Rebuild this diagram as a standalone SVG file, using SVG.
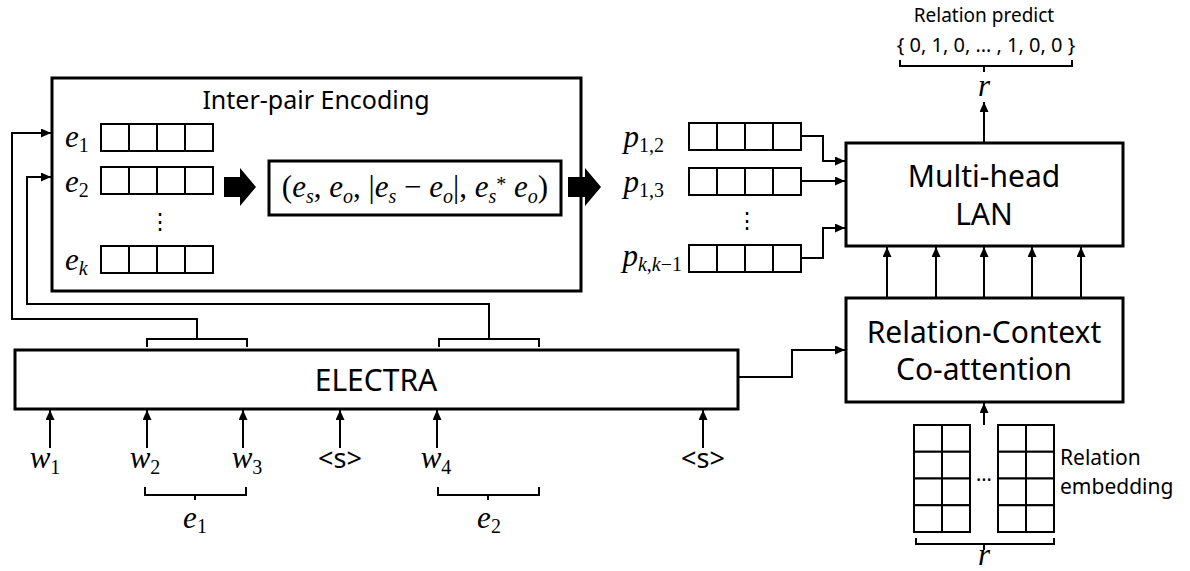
<svg xmlns="http://www.w3.org/2000/svg" xmlns:xlink="http://www.w3.org/1999/xlink" width="1190" height="571" viewBox="0 0 1190 571">
<style>
.box{fill:#fff;stroke:#000;stroke-width:3}
.cell{fill:#fff;stroke:#000;stroke-width:2}
.ln{fill:none;stroke:#000;stroke-width:2}
.arr{fill:none;stroke:#000;stroke-width:2;marker-end:url(#ah)}
.lbl{font-family:"Noto Sans","Open Sans","Liberation Sans",sans-serif;fill:#000}
.m{font-family:"Liberation Serif","DejaVu Serif",serif;font-style:italic;font-size:31px;fill:#000}
.sb{font-style:normal;font-size:20px}
.si{font-style:italic;font-size:20px}
.up{font-style:normal}
</style>
<defs>
<marker id="ah" markerUnits="userSpaceOnUse" markerWidth="11" markerHeight="10" refX="10" refY="4.5" orient="auto">
<path d="M0,0 L10,4.5 L0,9 z" fill="#000"/>
</marker>
<g id="row4">
<rect class="cell" x="0" y="0" width="28" height="27"/>
<rect class="cell" x="28" y="0" width="28" height="27"/>
<rect class="cell" x="56" y="0" width="28" height="27"/>
<rect class="cell" x="84" y="0" width="28" height="27"/>
</g>
<g id="grid24">
<rect class="cell" x="0" y="0" width="28" height="26.75"/>
<rect class="cell" x="28" y="0" width="28" height="26.75"/>
<rect class="cell" x="0" y="26.75" width="28" height="26.75"/>
<rect class="cell" x="28" y="26.75" width="28" height="26.75"/>
<rect class="cell" x="0" y="53.5" width="28" height="26.75"/>
<rect class="cell" x="28" y="53.5" width="28" height="26.75"/>
<rect class="cell" x="0" y="80.25" width="28" height="26.75"/>
<rect class="cell" x="28" y="80.25" width="28" height="26.75"/>
</g>
</defs>
<rect width="1190" height="571" fill="#fff"/>

<g id="inter-pair-encoding">
<rect class="box" x="52" y="78" width="529" height="213"/>
<text class="lbl" x="316" y="109" font-size="25" text-anchor="middle">Inter-pair Encoding</text>
<text class="m" x="65" y="147">e<tspan class="sb" dy="5">1</tspan></text>
<use xlink:href="#row4" x="101" y="124"/>
<text class="m" x="65" y="192">e<tspan class="sb" dy="5">2</tspan></text>
<use xlink:href="#row4" x="101" y="167"/>
<text class="lbl" x="160" y="229" font-size="22" text-anchor="middle" font-family="DejaVu Sans">⋮</text>
<text class="m" x="65" y="270">e<tspan class="si" dy="5">k</tspan></text>
<use xlink:href="#row4" x="101" y="246"/>
<polygon points="224,177 240,177 240,168 256,187 240,206 240,197 224,197" fill="#000"/>
</g>

<g id="pair-features">
<rect class="box" x="269" y="161" width="292" height="54"/>
<text class="m" x="415" y="197" text-anchor="middle" font-size="26"><tspan class="up">(</tspan>e<tspan class="si" dy="6" font-size="18">s</tspan><tspan class="up" dy="-6">, </tspan>e<tspan class="si" dy="6" font-size="18">o</tspan><tspan class="up" dy="-6">, |</tspan>e<tspan class="si" dy="6" font-size="18">s</tspan><tspan class="up" dy="-6"> − </tspan>e<tspan class="si" dy="6" font-size="18">o</tspan><tspan class="up" dy="-6">|, </tspan>e<tspan class="si" dy="6" font-size="18">s</tspan><tspan class="up" dy="-12" font-size="20">*</tspan><tspan class="up" dy="6"> </tspan>e<tspan class="si" dy="6" font-size="18">o</tspan><tspan class="up" dy="-6">)</tspan></text>
<polygon points="568,177 585,177 585,168 601,187 585,206 585,197 568,197" fill="#000"/>
</g>

<g id="pair-vectors">
<text class="m" x="664" y="147" text-anchor="end">p<tspan class="sb" dy="5">1,2</tspan></text>
<use xlink:href="#row4" x="689" y="123"/>
<text class="m" x="664" y="192" text-anchor="end">p<tspan class="sb" dy="5">1,3</tspan></text>
<use xlink:href="#row4" x="689" y="168"/>
<text class="lbl" x="747" y="228" font-size="22" text-anchor="middle" font-family="DejaVu Sans">⋮</text>
<text class="m" x="682" y="266" text-anchor="end">p<tspan class="si" dy="5">k</tspan><tspan class="sb">,</tspan><tspan class="si">k</tspan><tspan class="sb">−1</tspan></text>
<use xlink:href="#row4" x="689" y="245"/>
</g>

<g id="multi-head-lan">
<rect class="box" x="846" y="143" width="277" height="103"/>
<text class="lbl" x="984" y="187" font-size="30" text-anchor="middle">Multi-head</text>
<text class="lbl" x="984" y="225" font-size="30" text-anchor="middle">LAN</text>
</g>

<g id="relation-predict">
<text class="lbl" x="984" y="22" font-size="19" text-anchor="middle">Relation predict</text>
<text class="lbl" x="986" y="52" font-size="20" text-anchor="middle">{ 0, 1, 0, … , 1, 0, 0 }</text>
<path class="ln" d="M900,60 V66 H1072 V60 M984,66 V72"/>
<text class="m" x="984" y="96" text-anchor="middle">r</text>
</g>

<g id="relation-context-coattention">
<rect class="box" x="846" y="298" width="277" height="104"/>
<text class="lbl" x="984" y="343" font-size="30" text-anchor="middle">Relation-Context</text>
<text class="lbl" x="984" y="380" font-size="30" text-anchor="middle">Co-attention</text>
</g>

<g id="relation-embedding">
<use xlink:href="#grid24" x="914" y="425"/>
<use xlink:href="#grid24" x="998" y="425"/>
<text class="lbl" x="984" y="481" font-size="20" text-anchor="middle">…</text>
<text class="lbl" x="1060" y="465" font-size="21">Relation</text>
<text class="lbl" x="1060" y="494" font-size="21">embedding</text>
<path class="ln" d="M916,538 V544 H1054 V538 M984,544 V550"/>
<text class="m" x="984" y="565" text-anchor="middle" font-size="29">r</text>
</g>

<g id="electra">
<rect class="box" x="15" y="350" width="723" height="59"/>
<text class="lbl" x="376" y="391" font-size="30" text-anchor="middle">ELECTRA</text>
</g>

<g id="tokens">
<text class="m" x="45" y="468" text-anchor="middle">w<tspan class="sb" dy="6">1</tspan></text>
<text class="m" x="145" y="468" text-anchor="middle">w<tspan class="sb" dy="6">2</tspan></text>
<text class="m" x="247" y="468" text-anchor="middle">w<tspan class="sb" dy="6">3</tspan></text>
<text class="lbl" x="340" y="468" font-size="27" text-anchor="middle">&lt;s&gt;</text>
<text class="m" x="436" y="468" text-anchor="middle">w<tspan class="sb" dy="6">4</tspan></text>
<text class="lbl" x="703" y="468" font-size="27" text-anchor="middle">&lt;s&gt;</text>
<path class="ln" d="M145,487 V495 H246 V487 M195,495 V500"/>
<text class="m" x="195" y="528" text-anchor="middle">e<tspan class="sb" dy="5">1</tspan></text>
<path class="ln" d="M438,487 V495 H539 V487 M488,495 V500"/>
<text class="m" x="489" y="528" text-anchor="middle">e<tspan class="sb" dy="5">2</tspan></text>
</g>

<g id="connectors">
<path class="ln" d="M147,347 V339 H247 V347"/>
<path class="arr" d="M197,339 V319 H12 V133 H51"/>
<path class="ln" d="M439,347 V339 H539 V347"/>
<path class="arr" d="M489,339 V304 H27 V177 H51"/>
<path class="arr" d="M50,448 V410"/>
<path class="arr" d="M147,448 V410"/>
<path class="arr" d="M243,448 V410"/>
<path class="arr" d="M340,448 V410"/>
<path class="arr" d="M437,448 V410"/>
<path class="arr" d="M703,448 V410"/>
<path class="arr" d="M738,377 H792 V350 H845"/>
<path class="arr" d="M801,136 H823 V161 H845"/>
<path class="arr" d="M801,181 H845"/>
<path class="arr" d="M801,258 H823 V228 H845"/>
<path class="arr" d="M887,298 V247"/>
<path class="arr" d="M936,298 V247"/>
<path class="arr" d="M984,298 V247"/>
<path class="arr" d="M1032,298 V247"/>
<path class="arr" d="M1081,298 V247"/>
<path class="arr" d="M984,143 V102"/>
<path class="arr" d="M984,425 V403"/>
</g>
</svg>
